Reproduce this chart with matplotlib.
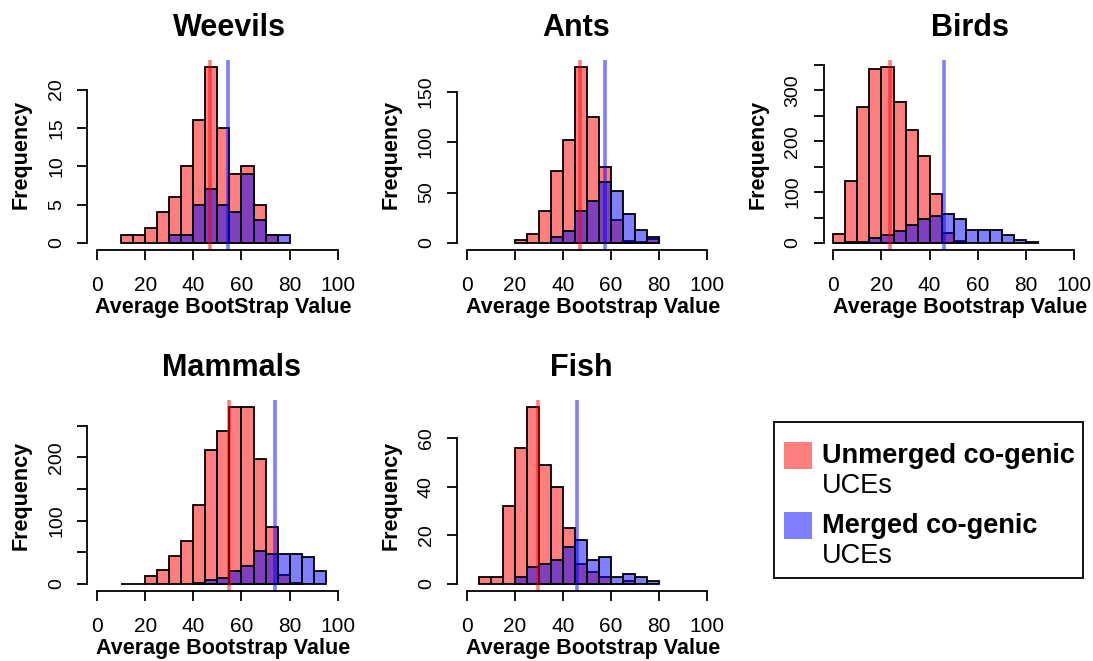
import numpy as np
import matplotlib
matplotlib.use("Agg")
import matplotlib.pyplot as plt
from matplotlib.patches import Rectangle

plt.rcParams['font.family'] = ['Liberation Sans', 'DejaVu Sans']

W, H = 1093, 661

# bin width 5, counts start at the given left edge
species = ["Weevils", "Ants", "Birds", "Mammals", "Fish"]
xlabels = ["Average BootStrap Value", "Average Bootstrap Value", "Average Bootstrap Value",
           "Average Bootstrap Value", "Average Bootstrap Value"]

unmerged_start = [10, 20, 0, 10, 5]
unmerged_counts = [
    [1, 1, 2, 4, 6, 10, 16, 23, 15, 9, 10, 5, 1],
    [3, 9, 32, 71, 102, 175, 125, 75, 23, 2, 1, 4],
    [17, 122, 268, 342, 347, 277, 223, 172, 96, 19, 4],
    [0, 0, 12, 22, 44, 67, 124, 212, 241, 279, 280, 198, 90, 14, 1],
    [3, 3, 32, 56, 73, 49, 40, 23, 8, 5, 3, 0, 1],
]
merged_start = [30, 35, 0, 40, 20]
merged_counts = [
    [1, 1, 5, 7, 5, 4, 9, 3, 1, 1],
    [6, 12, 32, 42, 60, 52, 29, 13, 6],
    [0, 1, 1, 10, 16, 23, 35, 48, 53, 57, 47, 26, 25, 25, 15, 6, 1],
    [2, 6, 10, 21, 28, 52, 47, 47, 47, 42, 21],
    [3, 7, 8, 10, 15, 18, 10, 11, 3, 4, 3, 1],
]
unmerged_mean = [47.1, 47.0, 23.6, 54.8, 29.7]
merged_mean = [54.4, 57.5, 46.0, 74.1, 46.0]

yticks = [
    [0, 5, 10, 15, 20],
    [0, 50, 100, 150],
    [0, 50, 100, 150, 200, 250, 300, 350],
    [0, 50, 100, 150, 200, 250],
    [0, 20, 40, 60],
]
ylabeled = [
    [0, 5, 10, 15, 20],
    [0, 50, 100, 150],
    [0, 100, 200, 300],
    [0, 100, 200],
    [0, 20, 40, 60],
]
title_x = [229, 576, 970, 232, 581]

red = (1, 0, 0, 0.5)
blue = (0, 0, 1, 0.5)

col_left = [87.4, 457, 823.7]
row_box = [(59.5, 250), (399.5, 591)]
panel_w = 260

fig = plt.figure(figsize=(W / 100, H / 100), dpi=100)

for i, name in enumerate(species):
    r, c = divmod(i, 3)
    left = col_left[c]
    top, bottom = row_box[r]
    ax = fig.add_axes([left / W, 1 - bottom / H, panel_w / W, (bottom - top) / H])

    uc = np.array(unmerged_counts[i])
    mc = np.array(merged_counts[i])
    ue = unmerged_start[i] + 5 * np.arange(len(uc))
    me = merged_start[i] + 5 * np.arange(len(mc))
    ax.bar(ue, uc, width=5, align='edge', color=red, edgecolor='black', linewidth=1.3)
    ax.bar(me, mc, width=5, align='edge', color=blue, edgecolor='black', linewidth=1.3)
    ax.axvline(unmerged_mean[i], color=red, lw=2.6)
    ax.axvline(merged_mean[i], color=blue, lw=2.6)

    M = uc.max()
    ax.set_xlim(-4, 104)
    ax.set_ylim(-0.04 * M, 1.04 * M)
    for s in ['top', 'right']:
        ax.spines[s].set_visible(False)
    ax.spines['bottom'].set_bounds(0, 100)
    ax.spines['left'].set_bounds(0, yticks[i][-1])
    ax.spines['bottom'].set_linewidth(1.3)
    ax.spines['left'].set_linewidth(1.3)

    ax.set_xticks(range(0, 101, 20))
    ax.set_xticklabels([str(v) for v in range(0, 101, 20)], fontsize=15)
    ax.set_yticks(yticks[i])
    ax.set_yticklabels([str(v) if v in ylabeled[i] else '' for v in yticks[i]],
                       fontsize=14, rotation=90, va='center')
    ax.tick_params(axis='x', length=7, width=1.3, pad=12)
    ax.tick_params(axis='y', length=7, width=1.3, pad=9)

    h = bottom - top
    ax.set_xlabel(xlabels[i], fontsize=15.5, fontweight='bold')
    ax.xaxis.set_label_coords(0.523, -63 / h)
    ax.xaxis.label.set_va('baseline')
    ax.set_ylabel('Frequency', fontsize=15.5, fontweight='bold')
    ax.yaxis.set_label_coords(-66 / panel_w, 0.5)
    ax.yaxis.label.set_va('center')

    ax.text((title_x[i] - left) / panel_w, 1 + 23.5 / h, name, transform=ax.transAxes,
            ha='center', va='baseline', fontsize=22, fontweight='bold')

# legend panel
lax = fig.add_axes([0, 0, 1, 1])
lax.set_xlim(0, W)
lax.set_ylim(H, 0)
lax.axis('off')
lax.add_patch(Rectangle((774, 422), 309, 156, fill=False, edgecolor='black', lw=1.3))
legend_rows = [(red, "Unmerged co-genic", 442, 463), (blue, "Merged co-genic", 512, 533)]
for col, lab, sq_top, base in legend_rows:
    lax.add_patch(Rectangle((784, sq_top), 28, 27, facecolor=col, edgecolor='none'))
    lax.text(822, base, lab, fontsize=19.5, fontweight='bold', va='baseline', ha='left')
    lax.text(822, base + 30, "UCEs", fontsize=19.5, va='baseline', ha='left')

fig.savefig("out.png", dpi=100)
